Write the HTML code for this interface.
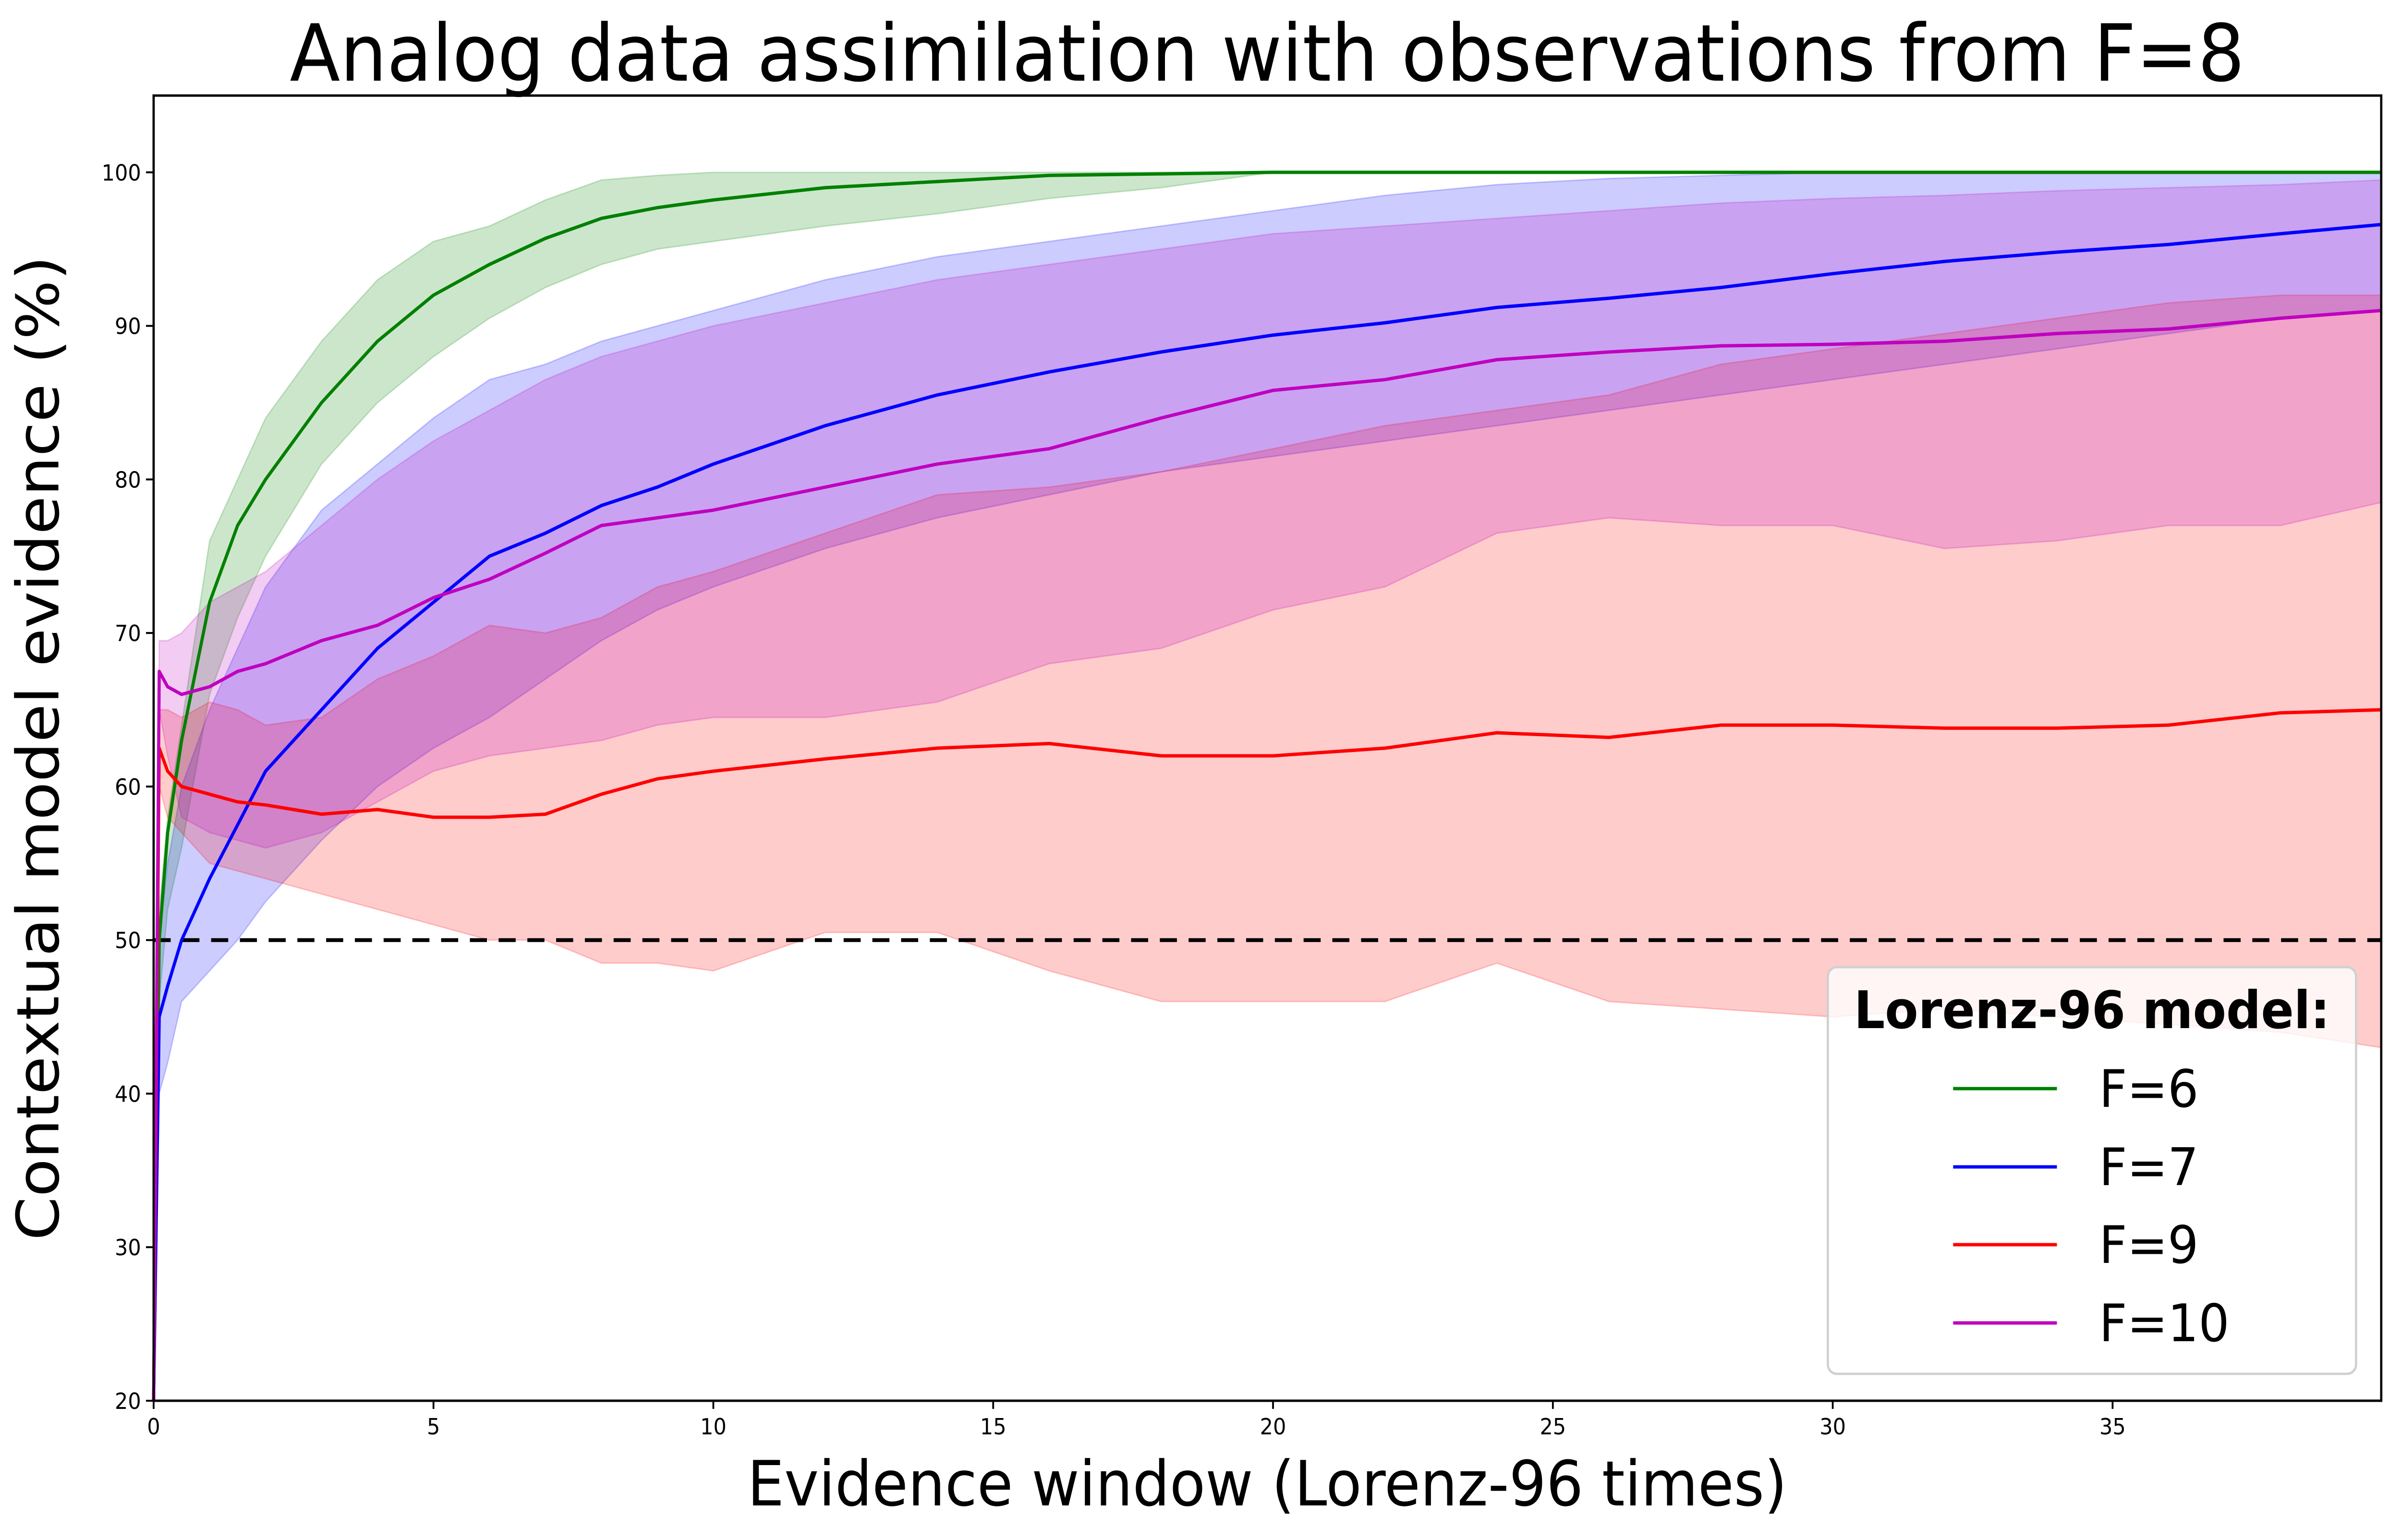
<!DOCTYPE html>
<html><head><meta charset="utf-8"><style>
html,body{margin:0;padding:0;background:#fff;overflow:hidden;width:100%;height:100%}
svg{display:block;width:100vw;height:100vh;font-family:"DejaVu Sans","Liberation Sans",sans-serif}
</style></head><body>
<svg id="chart" viewBox="0 0 5345 3207" preserveAspectRatio="none" xmlns="http://www.w3.org/2000/svg">
<rect width="5345" height="3207" fill="#fff"/>
<g id="bands"></g>
<g id="lines"></g>
<g id="axes"></g>
<text x="2821" y="168" font-size="164" text-anchor="middle">Analog data assimilation with observations from F=8</text>
<text x="2821" y="3135" font-size="130" text-anchor="middle">Evidence window (Lorenz-96 times)</text>
<text transform="translate(130,1558) rotate(-90)" font-size="130" text-anchor="middle">Contextual model evidence (%)</text>
<g>
<rect x="4069" y="2014" width="1176" height="847" rx="20" fill="#fff" fill-opacity="0.8" stroke="#d0d0d0" stroke-width="5"/>
<text x="4657" y="2141" font-size="108" font-weight="bold" text-anchor="middle">Lorenz-96 model:</text>
<g><line x1="4348" x2="4579" y1="2267" y2="2267" stroke="#008000" stroke-width="7"/><text x="4673" y="2305" font-size="108">F=6</text></g>
<g><line x1="4348" x2="4579" y1="2430" y2="2430" stroke="#0000ff" stroke-width="7"/><text x="4673" y="2468" font-size="108">F=7</text></g>
<g><line x1="4348" x2="4579" y1="2592" y2="2592" stroke="#ff0000" stroke-width="7"/><text x="4673" y="2630" font-size="108">F=9</text></g>
<g><line x1="4348" x2="4579" y1="2755" y2="2755" stroke="#bf00bf" stroke-width="7"/><text x="4673" y="2793" font-size="108">F=10</text></g>
</g>
</svg>
<script>
const xs=[0,0.1,0.25,0.5,1,1.5,2,3,4,5,6,7,8,9,10,12,14,16,18,20,22,24,26,28,30,32,34,36,38,39.8];
const greenMean=[20,50,57,63,72,77,80,85,89,92,94,95.7,97,97.7,98.2,99,99.4,99.8,99.9,100,100,100,100,100,100,100,100,100,100,100];
const greenUp=[20,52,58,64,76,80,84,89,93,95.5,96.5,98.2,99.5,99.8,100,100,100,100,100,100,100,100,100,100,100,100,100,100,100,100];
const greenLo=[20,46,52,56,66,71,75,81,85,88,90.5,92.5,94,95,95.5,96.5,97.3,98.3,99,100,100,100,100,100,100,100,100,100,100,100];
const blueMean=[20,45,47,50,54,57.5,61,65,69,72,75,76.5,78.3,79.5,81,83.5,85.5,87,88.3,89.4,90.2,91.2,91.8,92.5,93.4,94.2,94.8,95.3,96,96.6];
const blueUp=[20,50,55,60,65,69,73,78,81,84,86.5,87.5,89,90,91,93,94.5,95.5,96.5,97.5,98.5,99.2,99.6,99.8,100,100,100,100,100,100];
const blueLo=[20,40,42,46,48,50,52.5,56.5,60,62.5,64.5,67,69.5,71.5,73,75.5,77.5,79,80.5,81.5,82.5,83.5,84.5,85.5,86.5,87.5,88.5,89.5,90.5,91];
const redMean=[20,62.5,61,60,59.5,59,58.8,58.2,58.5,58,58,58.2,59.5,60.5,61,61.8,62.5,62.8,62,62,62.5,63.5,63.2,64,64,63.8,63.8,64,64.8,65];
const redUp=[20,65,65,64.5,65.5,65,64,64.5,67,68.5,70.5,70,71,73,74,76.5,79,79.5,80.5,82,83.5,84.5,85.5,87.5,88.5,89.5,90.5,91.5,92,92];
const redLo=[20,60,58,57,55,54.5,54,53,52,51,50,50,48.5,48.5,48,50.5,50.5,48,46,46,46,48.5,46,45.5,45,45.5,45,44.5,44,43];
const magMean=[20,67.5,66.5,66,66.5,67.5,68,69.5,70.5,72.3,73.5,75.2,77,77.5,78,79.5,81,82,84,85.8,86.5,87.8,88.3,88.7,88.8,89,89.5,89.8,90.5,91];
const magUp=[20,69.5,69.5,70,72,73,74,77,80,82.5,84.5,86.5,88,89,90,91.5,93,94,95,96,96.5,97,97.5,98,98.3,98.5,98.8,99,99.2,99.5];
const magLo=[20,65,62,58,57,56.5,56,57,59,61,62,62.5,63,64,64.5,64.5,65.5,68,69,71.5,73,76.5,77.5,77,77,75.5,76,77,77,78.5];
const xTicks=[0,5,10,15,20,25,30,35];
const yTicks=[20,30,40,50,60,70,80,90,100];
const refLevel=50;

const L=342,R=5301,T=199,B=2917,XMAX=39.8,YMIN=20,YMAX=105;
const NS='http://www.w3.org/2000/svg';
function sx(v){return L+(v/XMAX)*(R-L);}
function sy(v){return B-(v-YMIN)/(YMAX-YMIN)*(B-T);}
function mk(tag,attrs,parent){const e=document.createElementNS(NS,tag);for(const k in attrs)e.setAttribute(k,attrs[k]);parent.appendChild(e);return e;}
const bands=document.getElementById('bands'),lines=document.getElementById('lines'),axes=document.getElementById('axes');
const series=[
 ['f6',greenMean,greenUp,greenLo,'#008000'],
 ['f7',blueMean,blueUp,blueLo,'#0000ff'],
 ['f9',redMean,redUp,redLo,'#ff0000'],
 ['f10',magMean,magUp,magLo,'#bf00bf']];
series.forEach(s=>{
  let d='M'+xs.map((x,i)=>sx(x)+','+sy(s[2][i])).join('L');
  for(let i=xs.length-1;i>=0;i--)d+='L'+sx(xs[i])+','+sy(s[3][i]);
  d+='Z';
  const b=mk('path',{d:d,fill:s[4],'fill-opacity':0.2,stroke:s[4],'stroke-opacity':0.2,'stroke-width':3},bands);
  
  
});
const ref=mk('line',{x1:L,x2:R,y1:sy(refLevel),y2:sy(refLevel),stroke:'#000','stroke-width':8,'stroke-dasharray':'38,26'},lines);


series.forEach(s=>{
  const p=mk('path',{d:'M'+xs.map((x,i)=>sx(x)+','+sy(s[1][i])).join('L'),fill:'none',stroke:s[4],'stroke-width':7,'stroke-linejoin':'round'},lines);
  
  
});
const frame=mk('rect',{x:L,y:T,width:R-L,height:B-T,fill:'none',stroke:'#000','stroke-width':5},axes);


xTicks.forEach(t=>{
  const g=mk('g',{},axes);
  
  
  mk('line',{x1:sx(t),x2:sx(t),y1:B,y2:B+17,stroke:'#000','stroke-width':4},g);
  const tx=mk('text',{x:sx(t),y:B+70,'font-size':46,'text-anchor':'middle'},g);tx.textContent=t;
});
yTicks.forEach(t=>{
  const g=mk('g',{},axes);
  
  
  mk('line',{x1:L-17,x2:L,y1:sy(t),y2:sy(t),stroke:'#000','stroke-width':4},g);
  const tx=mk('text',{x:L-28,y:sy(t)+17,'font-size':46,'text-anchor':'end'},g);tx.textContent=t;
});
</script>
</body></html>
